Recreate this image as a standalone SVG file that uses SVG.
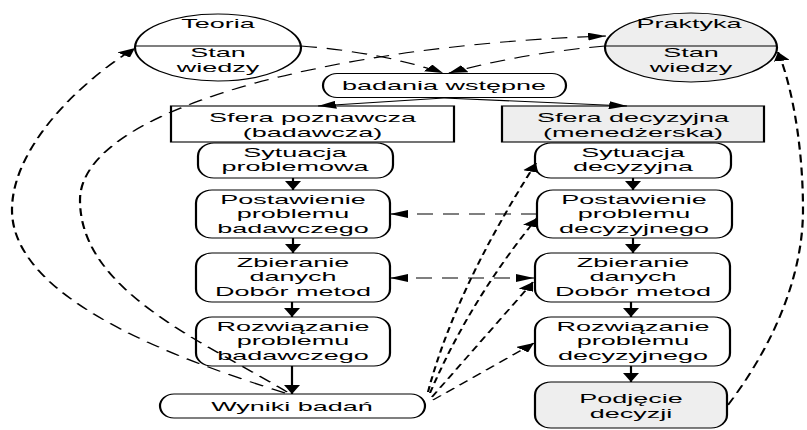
<svg xmlns="http://www.w3.org/2000/svg" width="807" height="430" viewBox="0 0 807 430">
  <style>
    .box { fill: #ffffff; stroke: #000000; stroke-width: 1.1; }
    .shade { fill: #eeeeee; }
    .sep { stroke: #000000; stroke-width: 1.1; fill: none; }
    .lbl { font-family: "Liberation Sans", Arial, sans-serif; font-size: 13.5px; fill: #000000; text-anchor: middle; }
    .solid { fill: none; stroke: #000000; stroke-width: 1.1; marker-end: url(#head); }
    .dash { fill: none; stroke: #000000; stroke-width: 1.1; stroke-dasharray: 8 5; }
    .dash-fine { fill: none; stroke: #000000; stroke-width: 1.1; stroke-dasharray: 6 4; }
    .to { marker-end: url(#head); }
    .both { marker-start: url(#headRev); marker-end: url(#head); }
  </style>
  <defs>
    <marker id="head" viewBox="0 0 9 8" refX="9" refY="4" markerWidth="9" markerHeight="8" markerUnits="userSpaceOnUse" orient="auto">
      <path d="M0,0 L9,4 L0,8 Z" fill="#000000" stroke="none"/>
    </marker>
    <marker id="headRev" viewBox="0 0 9 8" refX="0" refY="4" markerWidth="9" markerHeight="8" markerUnits="userSpaceOnUse" orient="auto">
      <path d="M9,0 L0,4 L9,8 Z" fill="#000000" stroke="none"/>
    </marker>
  </defs>

  <!-- the drawing is laid out at half width and stretched horizontally -->
  <g transform="scale(2,1)">

    <!-- theory / practice ellipses -->
    <g id="teoria">
      <ellipse class="box" cx="109" cy="47.5" rx="41.5" ry="33.5"/>
      <line class="sep" x1="67.6" y1="46" x2="150.4" y2="46"/>
      <text class="lbl" x="109" y="28">Teoria</text>
      <text class="lbl" x="109" y="57">Stan</text>
      <text class="lbl" x="109" y="72">wiedzy</text>
    </g>

    <g id="praktyka">
      <ellipse class="box shade" cx="345.5" cy="47.5" rx="43" ry="34.5"/>
      <line class="sep" x1="302.6" y1="46" x2="388.4" y2="46"/>
      <text class="lbl" x="344.5" y="28">Praktyka</text>
      <text class="lbl" x="345.5" y="57">Stan</text>
      <text class="lbl" x="345.5" y="72">wiedzy</text>
    </g>

    <g id="badania-wstepne">
      <rect class="box" x="161.5" y="73.5" width="121.5" height="24" rx="7" ry="12"/>
      <text class="lbl" x="222" y="90">badania wstępne</text>
    </g>

    <!-- sphere headers -->
    <g id="sfera-poznawcza">
      <rect class="box" x="85.5" y="106" width="141.5" height="36"/>
      <text class="lbl" x="156.25" y="122">Sfera poznawcza</text>
      <text class="lbl" x="156.25" y="137">(badawcza)</text>
    </g>

    <g id="sfera-decyzyjna">
      <rect class="box shade" x="251" y="106" width="131" height="36"/>
      <text class="lbl" x="316.5" y="122">Sfera decyzyjna</text>
      <text class="lbl" x="316.5" y="137">(menedżerska)</text>
    </g>

    <!-- research column -->
    <g id="sytuacja-problemowa">
      <rect class="box" x="99" y="143" width="97.5" height="35" rx="8" ry="13"/>
      <text class="lbl" x="147.5" y="157">Sytuacja</text>
      <text class="lbl" x="147.5" y="171">problemowa</text>
    </g>

    <g id="postawienie-badawczego">
      <rect class="box" x="98" y="190" width="97" height="48" rx="8" ry="13"/>
      <text class="lbl" x="146.5" y="204">Postawienie</text>
      <text class="lbl" x="146.5" y="218.5">problemu</text>
      <text class="lbl" x="146.5" y="233">badawczego</text>
    </g>

    <g id="zbieranie-badawcze">
      <rect class="box" x="98" y="253" width="97" height="49" rx="8" ry="13"/>
      <text class="lbl" x="146.5" y="267">Zbieranie</text>
      <text class="lbl" x="146.5" y="281.5">danych</text>
      <text class="lbl" x="146.5" y="296">Dobór metod</text>
    </g>

    <g id="rozwiazanie-badawczego">
      <rect class="box" x="98" y="317" width="97" height="49" rx="8" ry="13"/>
      <text class="lbl" x="146.5" y="331">Rozwiązanie</text>
      <text class="lbl" x="146.5" y="345.5">problemu</text>
      <text class="lbl" x="146.5" y="360">badawczego</text>
    </g>

    <g id="wyniki-badan">
      <rect class="box" x="80" y="394" width="132.5" height="24" rx="7" ry="12"/>
      <text class="lbl" x="146" y="411">Wyniki badań</text>
    </g>

    <!-- decision column -->
    <g id="sytuacja-decyzyjna">
      <rect class="box" x="267.5" y="143" width="98" height="35" rx="8" ry="13"/>
      <text class="lbl" x="316.5" y="157">Sytuacja</text>
      <text class="lbl" x="316.5" y="171">decyzyjna</text>
    </g>

    <g id="postawienie-decyzyjnego">
      <rect class="box" x="268.5" y="190" width="97.5" height="48" rx="8" ry="13"/>
      <text class="lbl" x="317" y="204">Postawienie</text>
      <text class="lbl" x="317" y="218.5">problemu</text>
      <text class="lbl" x="317" y="233">decyzyjnego</text>
    </g>

    <g id="zbieranie-decyzyjne">
      <rect class="box" x="267.5" y="253" width="97.5" height="49" rx="8" ry="13"/>
      <text class="lbl" x="316.5" y="267">Zbieranie</text>
      <text class="lbl" x="316.5" y="281.5">danych</text>
      <text class="lbl" x="316.5" y="296">Dobór metod</text>
    </g>

    <g id="rozwiazanie-decyzyjnego">
      <rect class="box" x="267.5" y="317" width="97.5" height="49" rx="8" ry="13"/>
      <text class="lbl" x="316.5" y="331">Rozwiązanie</text>
      <text class="lbl" x="316.5" y="345.5">problemu</text>
      <text class="lbl" x="316.5" y="360">decyzyjnego</text>
    </g>

    <g id="podjecie-decyzji">
      <rect class="box shade" x="267.5" y="382" width="96" height="46" rx="8" ry="13"/>
      <text class="lbl" x="315.5" y="403">Podjęcie</text>
      <text class="lbl" x="315.5" y="418">decyzji</text>
    </g>

    <!-- connectors -->
    <g id="connectors">
      <!-- preliminary research splits into both spheres -->
      <path class="solid" d="M222,98 L159,106"/>
      <path class="solid" d="M222,98 L313.5,106"/>

      <!-- research sequence -->
      <path class="solid" d="M146.5,178 L146.5,190"/>
      <path class="solid" d="M146.5,238 L146.5,253"/>
      <path class="solid" d="M146,302 L146,317"/>
      <path class="solid" d="M146,366 L146,394"/>

      <!-- decision sequence -->
      <path class="solid" d="M316.5,178 L316.5,190"/>
      <path class="solid" d="M316.5,238 L316.5,253"/>
      <path class="solid" d="M315.5,302 L315.5,317"/>
      <path class="solid" d="M315.5,366 L315.5,382"/>

      <!-- knowledge feeding preliminary research -->
      <path class="dash to" d="M150.5,46 Q190,52 221.5,73"/>
      <path class="dash to" d="M302.5,46 Q262,53 224.5,73"/>

      <!-- results back to the state of knowledge -->
      <path class="dash to" d="M142.5,393 C90,360 6,300 6,210 C6,150 37.5,85 67.5,48"/>
      <path class="dash to" d="M143.5,392 C100,340 40,290 40,200 C40,110 165,45 303,36"/>

      <!-- decision back to practice -->
      <path class="dash to" d="M364,405 C385,350 401.5,280 401.5,210 C401.5,140 395,80 389,52"/>

      <!-- links between the two columns -->
      <path class="dash to" d="M268.5,214 L195,214"/>
      <path class="dash both" d="M195,278 L267,278"/>

      <!-- results fanning out to the decision column -->
      <path class="dash-fine to" d="M214,392 Q227.5,290 268,163"/>
      <path class="dash-fine to" d="M215,393 Q235,300 268.5,218"/>
      <path class="dash-fine to" d="M216,397 L266.5,282"/>
      <path class="dash-fine to" d="M216.5,400 L267,343"/>
    </g>
  </g>
</svg>
